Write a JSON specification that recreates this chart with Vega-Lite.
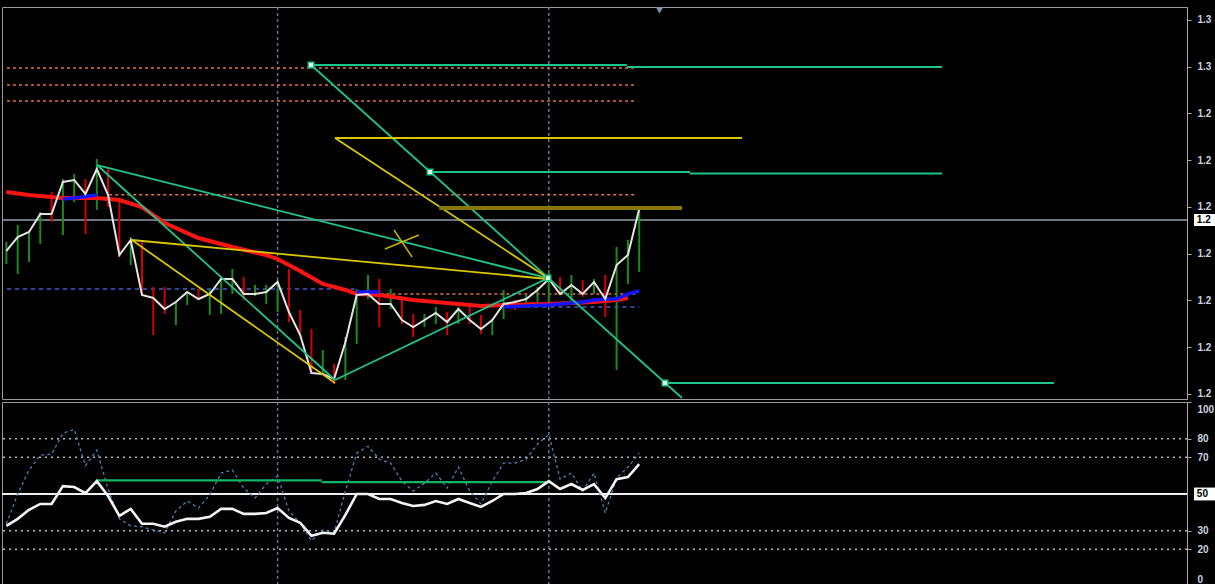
{
"$schema": "https://vega.github.io/schema/vega-lite/v6.json",
"background": "#000000",
"padding": {"left": 0, "top": 5, "right": 0, "bottom": 0},
"spacing": 3,
"bounds": "flush",
"config": {
 "view": {"fill": "#000000", "stroke": "#9a9a9a", "strokeWidth": 1},
 "axis": {"domainColor": "#a8a8a8", "tickColor": "#a8a8a8", "labelColor": "#c9d3e0", "labelFont": "Liberation Sans", "labelFontSize": 10, "labelFontWeight": "bold", "grid": false, "tickSize": 4, "labelPadding": 6, "labelOverlap": false}
},
"datasets": {
 "vlines": [{"i": 24}, {"i": 48}],
 "levels": [{"p": 1.26722}],
 "bars": [
  {"i":0,"hi":1.26252,"lo":1.25781,"d":"up"},{"i":1,"hi":1.26615,"lo":1.25567,"d":"up"},{"i":2,"hi":1.26465,"lo":1.25824,"d":"up"},{"i":3,"hi":1.26893,"lo":1.26209,"d":"up"},{"i":4,"hi":1.27321,"lo":1.26679,"d":"dn"},{"i":5,"hi":1.27599,"lo":1.26401,"d":"up"},{"i":6,"hi":1.27706,"lo":1.27107,"d":"up"},{"i":7,"hi":1.27599,"lo":1.26423,"d":"dn"},{"i":8,"hi":1.28027,"lo":1.26936,"d":"up"},{"i":9,"hi":1.27856,"lo":1.27000,"d":"dn"},
  {"i":10,"hi":1.27107,"lo":1.25931,"d":"dn"},{"i":11,"hi":1.26358,"lo":1.25759,"d":"up"},{"i":12,"hi":1.26294,"lo":1.25118,"d":"dn"},{"i":13,"hi":1.25289,"lo":1.24262,"d":"dn"},{"i":14,"hi":1.25289,"lo":1.24711,"d":"dn"},{"i":15,"hi":1.24968,"lo":1.24476,"d":"up"},{"i":16,"hi":1.25182,"lo":1.24904,"d":"up"},{"i":17,"hi":1.25246,"lo":1.25011,"d":"dn"},{"i":18,"hi":1.25246,"lo":1.24690,"d":"up"},{"i":19,"hi":1.25503,"lo":1.24711,"d":"up"},
  {"i":20,"hi":1.25674,"lo":1.25139,"d":"up"},{"i":21,"hi":1.25503,"lo":1.25011,"d":"dn"},{"i":22,"hi":1.25332,"lo":1.25096,"d":"up"},{"i":23,"hi":1.25332,"lo":1.24925,"d":"up"},{"i":24,"hi":1.25439,"lo":1.24754,"d":"up"},{"i":25,"hi":1.25674,"lo":1.24540,"d":"dn"},{"i":26,"hi":1.24797,"lo":1.24262,"d":"dn"},{"i":27,"hi":1.24390,"lo":1.23428,"d":"dn"},{"i":28,"hi":1.23941,"lo":1.23407,"d":"up"},{"i":29,"hi":1.23642,"lo":1.23214,"d":"dn"},
  {"i":30,"hi":1.24219,"lo":1.23300,"d":"up"},{"i":31,"hi":1.25246,"lo":1.24070,"d":"up"},{"i":32,"hi":1.25546,"lo":1.25032,"d":"up"},{"i":33,"hi":1.25460,"lo":1.24433,"d":"dn"},{"i":34,"hi":1.25246,"lo":1.24818,"d":"up"},{"i":35,"hi":1.25032,"lo":1.24497,"d":"dn"},{"i":36,"hi":1.24711,"lo":1.24219,"d":"dn"},{"i":37,"hi":1.24711,"lo":1.24433,"d":"up"},{"i":38,"hi":1.24861,"lo":1.24497,"d":"up"},{"i":39,"hi":1.24754,"lo":1.24262,"d":"dn"},
  {"i":40,"hi":1.24861,"lo":1.24497,"d":"up"},{"i":41,"hi":1.24904,"lo":1.24497,"d":"dn"},{"i":42,"hi":1.24690,"lo":1.24284,"d":"dn"},{"i":43,"hi":1.24604,"lo":1.24262,"d":"up"},{"i":44,"hi":1.25225,"lo":1.24604,"d":"up"},{"i":45,"hi":1.25011,"lo":1.24797,"d":"dn"},{"i":46,"hi":1.25118,"lo":1.24925,"d":"up"},{"i":47,"hi":1.25289,"lo":1.24968,"d":"up"},{"i":48,"hi":1.25652,"lo":1.24904,"d":"up"},{"i":49,"hi":1.25503,"lo":1.25118,"d":"dn"},
  {"i":50,"hi":1.25546,"lo":1.24968,"d":"up"},{"i":51,"hi":1.25439,"lo":1.25075,"d":"dn"},{"i":52,"hi":1.25460,"lo":1.25139,"d":"up"},{"i":53,"hi":1.25546,"lo":1.24647,"d":"dn"},{"i":54,"hi":1.26144,"lo":1.23513,"d":"up"},{"i":55,"hi":1.26294,"lo":1.25353,"d":"up"},{"i":56,"hi":1.26957,"lo":1.25610,"d":"up"}
 ],
 "close": [
  {"i":0,"p":1.26059},{"i":1,"p":1.26358},{"i":2,"p":1.26465},{"i":3,"p":1.26850},{"i":4,"p":1.26850},{"i":5,"p":1.27535},{"i":6,"p":1.27578},{"i":7,"p":1.27278},{"i":8,"p":1.27813},{"i":9,"p":1.27257},
  {"i":10,"p":1.25973},{"i":11,"p":1.26294},{"i":12,"p":1.25118},{"i":13,"p":1.25054},{"i":14,"p":1.24818},{"i":15,"p":1.24968},{"i":16,"p":1.25182},{"i":17,"p":1.25032},{"i":18,"p":1.25139},{"i":19,"p":1.25460},
  {"i":20,"p":1.25460},{"i":21,"p":1.25139},{"i":22,"p":1.25139},{"i":23,"p":1.25182},{"i":24,"p":1.25396},{"i":25,"p":1.24754},{"i":26,"p":1.24262},{"i":27,"p":1.23449},{"i":28,"p":1.23428},{"i":29,"p":1.23321},
  {"i":30,"p":1.24112},{"i":31,"p":1.25118},{"i":32,"p":1.25139},{"i":33,"p":1.24925},{"i":34,"p":1.24925},{"i":35,"p":1.24583},{"i":36,"p":1.24433},{"i":37,"p":1.24583},{"i":38,"p":1.24733},{"i":39,"p":1.24540},
  {"i":40,"p":1.24818},{"i":41,"p":1.24583},{"i":42,"p":1.24390},{"i":43,"p":1.24583},{"i":44,"p":1.24925},{"i":45,"p":1.24968},{"i":46,"p":1.25032},{"i":47,"p":1.25225},{"i":48,"p":1.25460},{"i":49,"p":1.25139},
  {"i":50,"p":1.25332},{"i":51,"p":1.25139},{"i":52,"p":1.25396},{"i":53,"p":1.25032},{"i":54,"p":1.25759},{"i":55,"p":1.25973},{"i":56,"p":1.26957}
 ],
 "ma": [
  {"i":0,"p":1.27321},{"i":2,"p":1.27257},{"i":5,"p":1.27193},{"i":8,"p":1.27193},{"i":10,"p":1.27150},{"i":12,"p":1.27000},{"i":14,"p":1.26658},{"i":17,"p":1.26337},{"i":20,"p":1.26144},{"i":23,"p":1.25973},{"i":24,"p":1.25888},{"i":26,"p":1.25631},{"i":28,"p":1.25353},{"i":30,"p":1.25225},{"i":31,"p":1.25139},{"i":33,"p":1.25118},{"i":36,"p":1.25011},{"i":39,"p":1.24947},{"i":42,"p":1.24882},{"i":44,"p":1.24904},{"i":48,"p":1.24925},{"i":52,"p":1.24968},{"i":54,"p":1.25011},{"i":55,"p":1.25054}
 ],
 "blue": [
  {"seg":"a","i":5,"p":1.27171},{"seg":"a","i":6,"p":1.27193},{"seg":"a","i":7,"p":1.27225},{"seg":"a","i":8,"p":1.27257},
  {"seg":"b","i":31,"p":1.25182},{"seg":"b","i":32,"p":1.25182},{"seg":"b","i":33,"p":1.25182},
  {"seg":"c","i":44,"p":1.24861},{"seg":"c","i":45,"p":1.24872},{"seg":"c","i":46,"p":1.24882},{"seg":"c","i":47,"p":1.24893},{"seg":"c","i":48,"p":1.24904},{"seg":"c","i":49,"p":1.24925},{"seg":"c","i":50,"p":1.24947},{"seg":"c","i":51,"p":1.24968},{"seg":"c","i":52,"p":1.25011},{"seg":"c","i":53,"p":1.25032},{"seg":"c","i":54,"p":1.25032},{"seg":"c","i":55,"p":1.25139},{"seg":"c","i":56,"p":1.25203}
 ],
 "segs": [
  {"kind":"orange","i":0.05,"p":1.29973,"i2":55.8,"p2":1.29973},
  {"kind":"orange","i":0.05,"p":1.29610,"i2":55.8,"p2":1.29610},
  {"kind":"orange","i":0.05,"p":1.29267,"i2":55.8,"p2":1.29267},
  {"kind":"orange","i":9.1,"p":1.27263,"i2":55.8,"p2":1.27263},
  {"kind":"orange","i":31.5,"p":1.25139,"i2":55.8,"p2":1.25139},
  {"kind":"bluedash","i":0.05,"p":1.25246,"i2":30.8,"p2":1.25246},
  {"kind":"bluedash","i":43.9,"p":1.24861,"i2":56.0,"p2":1.24861},
  {"kind":"bluedash","i":4.9,"p":1.27193,"i2":9.1,"p2":1.27193},
  {"kind":"teal","i":26.96,"p":1.30037,"i2":54.9,"p2":1.30037},
  {"kind":"teal","i":54.9,"p":1.29995,"i2":82.8,"p2":1.29995},
  {"kind":"teal","i":26.96,"p":1.30037,"i2":59.79,"p2":1.22915},
  {"kind":"teal","i":37.49,"p":1.27749,"i2":60.5,"p2":1.27749},
  {"kind":"teal","i":60.5,"p":1.27717,"i2":82.8,"p2":1.27717},
  {"kind":"teal","i":58.28,"p":1.23235,"i2":92.7,"p2":1.23235},
  {"kind":"teal","i":8.02,"p":1.27898,"i2":47.93,"p2":1.25481},
  {"kind":"teal","i":8.02,"p":1.27898,"i2":29.08,"p2":1.23300},
  {"kind":"teal","i":29.08,"p":1.23300,"i2":47.93,"p2":1.25481},
  {"kind":"yellow","i":29.08,"p":1.28476,"i2":65.1,"p2":1.28476},
  {"kind":"yellow","i":29.08,"p":1.28476,"i2":47.93,"p2":1.25481},
  {"kind":"yellow","i":11.1,"p":1.26294,"i2":47.93,"p2":1.25460},
  {"kind":"yellow","i":11.1,"p":1.26294,"i2":29.08,"p2":1.23235},
  {"kind":"olive","i":38.3,"p":1.26979,"i2":59.8,"p2":1.26979},
  {"kind":"yx","i":33.5,"p":1.26102,"i2":36.5,"p2":1.26401},
  {"kind":"yx","i":34.3,"p":1.26508,"i2":35.9,"p2":1.25931}
 ],
 "squares": [{"i":26.96,"p":1.30037},{"i":37.49,"p":1.27749},{"i":47.93,"p":1.25481},{"i":58.28,"p":1.23235}],
 "tri": [{"i":57.8,"p":1.31214}],
 "pbox": [{"i":105.1,"i2":107.4,"p":1.26850,"p2":1.26594,"ic":105.35,"pc":1.26722,"t":"1.2"}],
 "rsi": [
  {"i":0,"v":32.7},{"i":1,"v":36.5},{"i":2,"v":41.4},{"i":3,"v":44.6},{"i":4,"v":44.6},{"i":5,"v":54.3},{"i":6,"v":53.8},{"i":7,"v":50.5},{"i":8,"v":57.0},{"i":9,"v":48.9},
  {"i":10,"v":38.1},{"i":11,"v":41.9},{"i":12,"v":33.8},{"i":13,"v":33.8},{"i":14,"v":32.2},{"i":15,"v":34.9},{"i":16,"v":36.5},{"i":17,"v":36.5},{"i":18,"v":37.6},{"i":19,"v":41.9},
  {"i":20,"v":41.9},{"i":21,"v":39.2},{"i":22,"v":39.2},{"i":23,"v":39.7},{"i":24,"v":42.4},{"i":25,"v":37.0},{"i":26,"v":34.3},{"i":27,"v":27.3},{"i":28,"v":28.9},{"i":29,"v":28.4},
  {"i":30,"v":38.6},{"i":31,"v":50.0},{"i":32,"v":50.0},{"i":33,"v":47.3},{"i":34,"v":47.3},{"i":35,"v":45.1},{"i":36,"v":43.5},{"i":37,"v":44.1},{"i":38,"v":46.2},{"i":39,"v":44.6},
  {"i":40,"v":47.3},{"i":41,"v":45.1},{"i":42,"v":43.0},{"i":43,"v":46.2},{"i":44,"v":50.0},{"i":45,"v":50.0},{"i":46,"v":50.5},{"i":47,"v":52.7},{"i":48,"v":57.0},{"i":49,"v":52.7},
  {"i":50,"v":55.4},{"i":51,"v":52.2},{"i":52,"v":55.4},{"i":53,"v":47.8},{"i":54,"v":58.1},{"i":55,"v":59.2},{"i":56,"v":66.2}
 ],
 "stoch": [
  {"i":0,"v":33.8},{"i":1,"v":50.0},{"i":2,"v":63.0},{"i":3,"v":71.1},{"i":4,"v":71.6},{"i":5,"v":83.0},{"i":6,"v":85.1},{"i":7,"v":65.4},{"i":8,"v":73.8},{"i":9,"v":52.7},
  {"i":10,"v":36.5},{"i":11,"v":32.7},{"i":12,"v":32.2},{"i":13,"v":30.5},{"i":14,"v":28.9},{"i":15,"v":40.8},{"i":16,"v":46.2},{"i":17,"v":42.4},{"i":18,"v":49.5},{"i":19,"v":61.4},
  {"i":20,"v":63.0},{"i":21,"v":53.2},{"i":22,"v":47.8},{"i":23,"v":55.4},{"i":24,"v":59.7},{"i":25,"v":40.8},{"i":26,"v":34.3},{"i":27,"v":24.6},{"i":28,"v":30.5},{"i":29,"v":28.9},
  {"i":30,"v":51.6},{"i":31,"v":72.2},{"i":32,"v":75.9},{"i":33,"v":68.9},{"i":34,"v":66.8},{"i":35,"v":57.0},{"i":36,"v":51.6},{"i":37,"v":55.9},{"i":38,"v":61.4},{"i":39,"v":53.2},
  {"i":40,"v":64.6},{"i":41,"v":51.6},{"i":42,"v":44.6},{"i":43,"v":57.0},{"i":44,"v":66.8},{"i":45,"v":66.8},{"i":46,"v":68.9},{"i":47,"v":77.0},{"i":48,"v":82.4},{"i":49,"v":58.1},
  {"i":50,"v":61.4},{"i":51,"v":51.6},{"i":52,"v":61.4},{"i":53,"v":39.7},{"i":54,"v":58.6},{"i":55,"v":64.6},{"i":56,"v":72.2}
 ],
 "rlevels": [{"v":80},{"v":70},{"v":30},{"v":20}],
 "rmid": [{"v":50}],
 "rgreen": [{"i":8.02,"v":57.4,"i2":27.9,"v2":57.4},{"i":27.9,"v":56.5,"i2":47.9,"v2":56.5}],
 "rbox": [{"i":105.1,"i2":107.2,"v":53.5,"v2":46.5,"ic":105.35,"vc":50,"t":"50"}]
},
"vconcat": [
 {
  "width": 1185, "height": 392,
  "layer": [
   {"data": {"name": "levels"}, "mark": {"type": "rule", "color": "#8d9cac", "strokeWidth": 1.5},
    "encoding": {"y": {"field": "p", "type": "quantitative", "title": null, "scale": {"domain": [1.22893, 1.31278], "nice": false, "zero": false},
     "axis": {"orient": "right", "title": null, "labelOverlap": false, "values": [1.23, 1.24, 1.25, 1.26, 1.27, 1.28, 1.29, 1.30, 1.31], "labelExpr": "substring(format(datum.value, '.2f'), 0, 3)"}}}},
   {"data": {"name": "vlines"}, "mark": {"type": "rule", "color": "#5f7593", "strokeWidth": 1.5, "strokeDash": [3, 3]},
    "encoding": {"x": {"field": "i", "type": "quantitative", "scale": {"domain": [-0.389, 104.478], "nice": false, "zero": false}, "axis": null}}},
   {"data": {"name": "segs"}, "transform": [{"filter": "datum.kind === 'orange'"}], "mark": {"type": "rule", "color": "#e0704c", "strokeWidth": 1.5, "strokeDash": [3, 3]},
    "encoding": {"x": {"field": "i", "type": "quantitative", "scale": {"domain": [-0.389, 104.478], "nice": false, "zero": false}, "axis": null}, "x2": {"field": "i2"},
     "y": {"field": "p", "type": "quantitative", "title": null}, "y2": {"field": "p2"}}},
   {"data": {"name": "segs"}, "transform": [{"filter": "datum.kind === 'bluedash'"}], "mark": {"type": "rule", "color": "#3f5fd8", "strokeWidth": 1.5, "strokeDash": [4, 4]},
    "encoding": {"x": {"field": "i", "type": "quantitative", "scale": {"domain": [-0.389, 104.478], "nice": false, "zero": false}, "axis": null}, "x2": {"field": "i2"},
     "y": {"field": "p", "type": "quantitative", "title": null}, "y2": {"field": "p2"}}},
   {"data": {"name": "bars"}, "mark": {"type": "rule", "strokeWidth": 2, "clip": true},
    "encoding": {"x": {"field": "i", "type": "quantitative", "scale": {"domain": [-0.389, 104.478], "nice": false, "zero": false}, "axis": null},
     "y": {"field": "lo", "type": "quantitative", "title": null}, "y2": {"field": "hi"},
     "color": {"field": "d", "type": "nominal", "scale": {"domain": ["up", "dn"], "range": ["#1d8a1d", "#d40000"]}, "legend": null}}},
   {"data": {"name": "ma"}, "mark": {"type": "line", "color": "#ff1414", "strokeWidth": 4, "clip": true},
    "encoding": {"x": {"field": "i", "type": "quantitative", "scale": {"domain": [-0.389, 104.478], "nice": false, "zero": false}, "axis": null},
     "y": {"field": "p", "type": "quantitative", "title": null}}},
   {"data": {"name": "blue"}, "mark": {"type": "line", "color": "#1414ff", "strokeWidth": 3.5, "clip": true},
    "encoding": {"x": {"field": "i", "type": "quantitative", "scale": {"domain": [-0.389, 104.478], "nice": false, "zero": false}, "axis": null},
     "y": {"field": "p", "type": "quantitative", "title": null}, "detail": {"field": "seg"}}},
   {"data": {"name": "close"}, "mark": {"type": "line", "color": "#e4e4e4", "strokeWidth": 2, "clip": true},
    "encoding": {"x": {"field": "i", "type": "quantitative", "scale": {"domain": [-0.389, 104.478], "nice": false, "zero": false}, "axis": null},
     "y": {"field": "p", "type": "quantitative", "title": null}}},
   {"data": {"name": "segs"}, "transform": [{"filter": "datum.kind === 'teal'"}], "mark": {"type": "rule", "color": "#1fc48b", "strokeWidth": 1.8, "clip": true},
    "encoding": {"x": {"field": "i", "type": "quantitative", "scale": {"domain": [-0.389, 104.478], "nice": false, "zero": false}, "axis": null}, "x2": {"field": "i2"},
     "y": {"field": "p", "type": "quantitative", "title": null}, "y2": {"field": "p2"}}},
   {"data": {"name": "segs"}, "transform": [{"filter": "datum.kind === 'yellow'"}], "mark": {"type": "rule", "color": "#d9c700", "strokeWidth": 1.8, "clip": true},
    "encoding": {"x": {"field": "i", "type": "quantitative", "scale": {"domain": [-0.389, 104.478], "nice": false, "zero": false}, "axis": null}, "x2": {"field": "i2"},
     "y": {"field": "p", "type": "quantitative", "title": null}, "y2": {"field": "p2"}}},
   {"data": {"name": "segs"}, "transform": [{"filter": "datum.kind === 'olive'"}], "mark": {"type": "rule", "color": "#877800", "strokeWidth": 4},
    "encoding": {"x": {"field": "i", "type": "quantitative", "scale": {"domain": [-0.389, 104.478], "nice": false, "zero": false}, "axis": null}, "x2": {"field": "i2"},
     "y": {"field": "p", "type": "quantitative", "title": null}, "y2": {"field": "p2"}}},
   {"data": {"name": "segs"}, "transform": [{"filter": "datum.kind === 'yx'"}], "mark": {"type": "rule", "color": "#c9b100", "strokeWidth": 1.5},
    "encoding": {"x": {"field": "i", "type": "quantitative", "scale": {"domain": [-0.389, 104.478], "nice": false, "zero": false}, "axis": null}, "x2": {"field": "i2"},
     "y": {"field": "p", "type": "quantitative", "title": null}, "y2": {"field": "p2"}}},
   {"data": {"name": "squares"}, "mark": {"type": "point", "shape": "square", "filled": true, "fill": "#e6ffe8", "stroke": "#1fc48b", "strokeWidth": 1.5, "size": 30, "opacity": 1},
    "encoding": {"x": {"field": "i", "type": "quantitative", "scale": {"domain": [-0.389, 104.478], "nice": false, "zero": false}, "axis": null},
     "y": {"field": "p", "type": "quantitative", "title": null}}},
   {"data": {"name": "tri"}, "mark": {"type": "point", "shape": "triangle-down", "filled": true, "fill": "#7f94ab", "size": 70, "opacity": 1, "clip": true},
    "encoding": {"x": {"field": "i", "type": "quantitative", "scale": {"domain": [-0.389, 104.478], "nice": false, "zero": false}, "axis": null},
     "y": {"field": "p", "type": "quantitative", "title": null}}},
   {"data": {"name": "pbox"}, "mark": {"type": "rect", "fill": "#ffffff"},
    "encoding": {"x": {"field": "i", "type": "quantitative", "scale": {"domain": [-0.389, 104.478], "nice": false, "zero": false}, "axis": null}, "x2": {"field": "i2"},
     "y": {"field": "p", "type": "quantitative", "title": null}, "y2": {"field": "p2"}}},
   {"data": {"name": "pbox"}, "mark": {"type": "text", "color": "#000000", "font": "Liberation Sans", "fontSize": 10, "fontWeight": "bold", "align": "left", "baseline": "middle"},
    "encoding": {"x": {"field": "ic", "type": "quantitative", "scale": {"domain": [-0.389, 104.478], "nice": false, "zero": false}, "axis": null},
     "y": {"field": "pc", "type": "quantitative", "title": null}, "text": {"field": "t"}}}
  ]
 },
 {
  "width": 1185, "height": 184,
  "layer": [
   {"data": {"name": "rlevels"}, "mark": {"type": "rule", "color": "#b4b4b4", "strokeWidth": 1.5, "strokeDash": [2, 4]},
    "encoding": {"y": {"field": "v", "type": "quantitative", "title": null, "scale": {"domain": [0, 100], "nice": false, "zero": false},
     "axis": {"orient": "right", "title": null, "labelOverlap": false, "values": [0, 20, 30, 70, 80, 100], "labelFlush": true, "labelFlushOffset": -2}}}},
   {"data": {"name": "vlines"}, "mark": {"type": "rule", "color": "#5f7593", "strokeWidth": 1.5, "strokeDash": [3, 3]},
    "encoding": {"x": {"field": "i", "type": "quantitative", "scale": {"domain": [-0.389, 104.478], "nice": false, "zero": false}, "axis": null}}},
   {"data": {"name": "rmid"}, "mark": {"type": "rule", "color": "#f0f0f0", "strokeWidth": 2},
    "encoding": {"y": {"field": "v", "type": "quantitative", "title": null, "axis": {"orient": "right", "title": null, "labelOverlap": false, "values": [0, 20, 30, 70, 80, 100], "labelFlush": true, "labelFlushOffset": -2}}}},
   {"data": {"name": "stoch"}, "mark": {"type": "line", "color": "#4a80ba", "strokeWidth": 1.3, "strokeDash": [3, 3], "clip": true},
    "encoding": {"x": {"field": "i", "type": "quantitative", "scale": {"domain": [-0.389, 104.478], "nice": false, "zero": false}, "axis": null},
     "y": {"field": "v", "type": "quantitative", "title": null, "axis": {"orient": "right", "title": null, "labelOverlap": false, "values": [0, 20, 30, 70, 80, 100], "labelFlush": true, "labelFlushOffset": -2}}}},
   {"data": {"name": "rgreen"}, "mark": {"type": "rule", "color": "#14b466", "strokeWidth": 2.2},
    "encoding": {"x": {"field": "i", "type": "quantitative", "scale": {"domain": [-0.389, 104.478], "nice": false, "zero": false}, "axis": null}, "x2": {"field": "i2"},
     "y": {"field": "v", "type": "quantitative", "title": null, "axis": {"orient": "right", "title": null, "labelOverlap": false, "values": [0, 20, 30, 70, 80, 100], "labelFlush": true, "labelFlushOffset": -2}}, "y2": {"field": "v2"}}},
   {"data": {"name": "rsi"}, "mark": {"type": "line", "color": "#f4f4f4", "strokeWidth": 2.6, "clip": true},
    "encoding": {"x": {"field": "i", "type": "quantitative", "scale": {"domain": [-0.389, 104.478], "nice": false, "zero": false}, "axis": null},
     "y": {"field": "v", "type": "quantitative", "title": null, "axis": {"orient": "right", "title": null, "labelOverlap": false, "values": [0, 20, 30, 70, 80, 100], "labelFlush": true, "labelFlushOffset": -2}}}},
   {"data": {"name": "rbox"}, "mark": {"type": "rect", "fill": "#ffffff"},
    "encoding": {"x": {"field": "i", "type": "quantitative", "scale": {"domain": [-0.389, 104.478], "nice": false, "zero": false}, "axis": null}, "x2": {"field": "i2"},
     "y": {"field": "v", "type": "quantitative", "title": null, "axis": {"orient": "right", "title": null, "labelOverlap": false, "values": [0, 20, 30, 70, 80, 100], "labelFlush": true, "labelFlushOffset": -2}}, "y2": {"field": "v2"}}},
   {"data": {"name": "rbox"}, "mark": {"type": "text", "color": "#000000", "font": "Liberation Sans", "fontSize": 10, "fontWeight": "bold", "align": "left", "baseline": "middle"},
    "encoding": {"x": {"field": "ic", "type": "quantitative", "scale": {"domain": [-0.389, 104.478], "nice": false, "zero": false}, "axis": null},
     "y": {"field": "vc", "type": "quantitative", "title": null, "axis": {"orient": "right", "title": null, "labelOverlap": false, "values": [0, 20, 30, 70, 80, 100], "labelFlush": true, "labelFlushOffset": -2}}, "text": {"field": "t"}}}
  ]
 }
]
}
